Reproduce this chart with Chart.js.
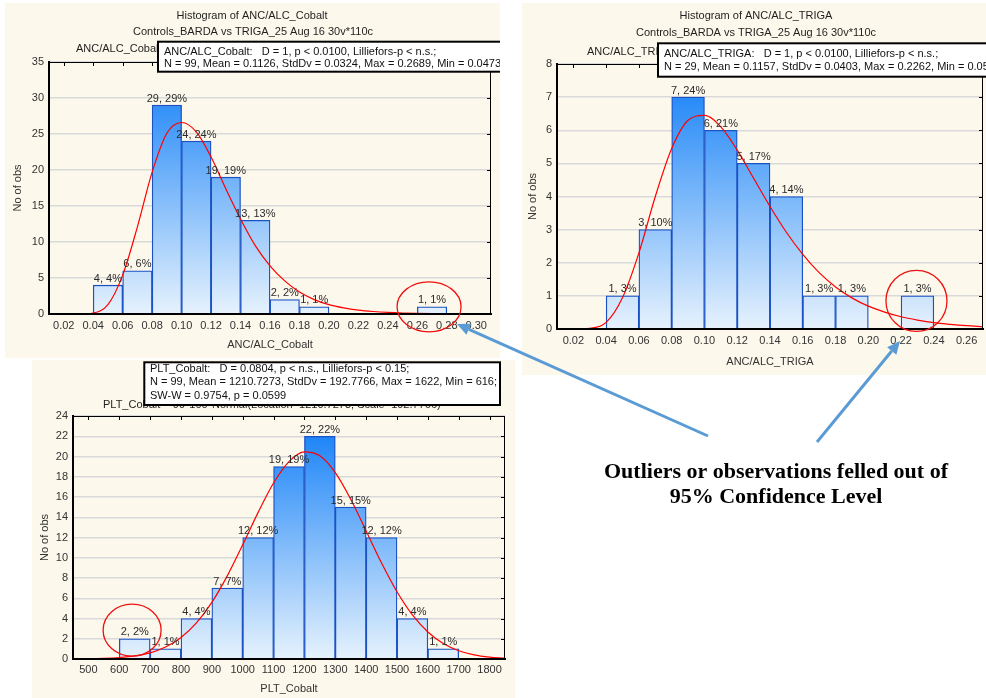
<!DOCTYPE html>
<html>
<head>
<meta charset="utf-8">
<script src="https://cdn.jsdelivr.net/npm/chart.js@4.4.1/dist/chart.umd.min.js"></script>
<style>
  html, body { margin: 0; padding: 0; background: #ffffff; }
  body { width: 986px; height: 698px; position: relative; overflow: hidden; }
  .panel { position: absolute; background: #fdf8ec; overflow: hidden; }
  .panel canvas { display: block; }
  #overlay { position: absolute; left: 0; top: 0; pointer-events: none; z-index: 5; }
</style>
</head>
<body>
<div class="panel" style="left:5px;top:3px;width:495px;height:355px"><canvas id="cobalt" width="495" height="355"></canvas></div>
<div class="panel" style="left:522px;top:3px;width:464px;height:372px"><canvas id="triga" width="464" height="372"></canvas></div>
<div class="panel" style="left:32px;top:360px;width:483px;height:338px"><canvas id="plt" width="483" height="338"></canvas></div>
<canvas id="overlay" width="986" height="698"></canvas>
<script>
// ---- ANC/ALC_Cobalt (bin width 0.02) ----
const cobaltBins   = [0.03, 0.05, 0.07, 0.09, 0.11, 0.13, 0.15, 0.17, 0.19, 0.21, 0.23, 0.25, 0.27];
const cobaltCounts = [0, 4, 6, 29, 24, 19, 13, 2, 1, 0, 0, 0, 1];
const cobaltTicks  = [0.02, 0.04, 0.06, 0.08, 0.10, 0.12, 0.14, 0.16, 0.18, 0.20, 0.22, 0.24, 0.26, 0.28, 0.30];
const cobaltFitX   = [0.01, 0.02, 0.03, 0.04, 0.05, 0.06, 0.07, 0.08, 0.09, 0.10, 0.11, 0.12, 0.13, 0.14, 0.15, 0.16,
                      0.17, 0.18, 0.19, 0.20, 0.21, 0.22, 0.23, 0.24, 0.25, 0.26, 0.27, 0.28, 0.29, 0.30, 0.31];
const cobaltFitY   = [0, 0, 0.01, 0.14, 1.3, 5.4, 12.1, 19.7, 25.1, 26.6, 25.3, 21.8, 17.4, 13.2, 9.5, 6.7,
                      4.6, 3.05, 2.0, 1.3, 0.85, 0.54, 0.35, 0.22, 0.14, 0.09, 0.055, 0.035, 0.02, 0.013, 0.008];

// ---- ANC/ALC_TRIGA (bin width 0.02) ----
const trigaBins   = [0.03, 0.05, 0.07, 0.09, 0.11, 0.13, 0.15, 0.17, 0.19, 0.21, 0.23];
const trigaCounts = [0, 1, 3, 7, 6, 5, 4, 1, 1, 0, 1];
const trigaTicks  = [0.02, 0.04, 0.06, 0.08, 0.10, 0.12, 0.14, 0.16, 0.18, 0.20, 0.22, 0.24, 0.26];
const trigaFitX   = [0.01, 0.02, 0.03, 0.04, 0.05, 0.06, 0.07, 0.08, 0.09, 0.10, 0.11, 0.12, 0.13, 0.14,
                     0.15, 0.16, 0.17, 0.18, 0.19, 0.20, 0.21, 0.22, 0.23, 0.24, 0.25, 0.26, 0.27];
const trigaFitY   = [0, 0, 0.02, 0.2, 0.95, 2.3, 4.0, 5.45, 6.3, 6.45, 6.1, 5.4, 4.55, 3.7,
                     2.92, 2.25, 1.7, 1.27, 0.94, 0.69, 0.51, 0.37, 0.27, 0.19, 0.14, 0.1, 0.07];

// ---- PLT_Cobalt (bin width 100) ----
const pltBins   = [550, 650, 750, 850, 950, 1050, 1150, 1250, 1350, 1450, 1550, 1650];
const pltCounts = [0, 2, 1, 4, 7, 12, 19, 22, 15, 12, 4, 1];
const pltTicks  = [500, 600, 700, 800, 900, 1000, 1100, 1200, 1300, 1400, 1500, 1600, 1700, 1800];
const pltFitX   = [450, 500, 550, 600, 650, 700, 750, 800, 850, 900, 950, 1000, 1050, 1100, 1150,
                   1200, 1250, 1300, 1350, 1400, 1450, 1500, 1550, 1600, 1650, 1700, 1750, 1800, 1850];
const pltFitY   = [0.01, 0.02, 0.06, 0.14, 0.3, 0.61, 1.18, 2.12, 3.56, 5.59, 8.21, 11.28, 14.48, 17.38, 19.5,
                   20.46, 20.07, 18.41, 15.78, 12.65, 9.48, 6.64, 4.35, 2.67, 1.53, 0.82, 0.41, 0.19, 0.08];

const FONT = '"Liberation Sans", Arial, Helvetica, sans-serif';
Chart.defaults.font.family = FONT;
Chart.defaults.font.size = 11;
Chart.defaults.color = '#333333';

function makeHistogram(canvasId, d) {
  const el = document.getElementById(canvasId);
  const W = el.width, H = el.height, A = d.area;
  const total = d.counts.reduce((s, v) => s + v, 0);
  let grad = null;

  const barFill = (c) => {
    const ch = c.chart, a = ch.chartArea;
    if (!a) return '#5aa6f6';
    if (!grad) {
      grad = ch.ctx.createLinearGradient(0, a.top, 0, a.bottom);
      grad.addColorStop(0, '#0d7cf7');
      grad.addColorStop(1, '#e6f2fd');
    }
    return grad;
  };

  const decor = {
    id: 'decor_' + canvasId,
    afterDatasetsDraw(chart) {
      const { ctx, chartArea: a, scales: { x, y } } = chart;
      const meta = chart.getDatasetMeta(1);
      ctx.save();
      // plot frame: heavy left/bottom axes, thin top/right edges
      ctx.strokeStyle = '#000';
      ctx.lineWidth = 1;
      ctx.beginPath();
      ctx.moveTo(a.left, a.top + 0.5); ctx.lineTo(a.right, a.top + 0.5);
      ctx.moveTo(a.right - 0.5, a.top); ctx.lineTo(a.right - 0.5, a.bottom);
      ctx.stroke();
      // inward tick marks on the top and right edges
      ctx.beginPath();
      d.xTicks.forEach(v => { const px = Math.round(x.getPixelForValue(v)) + 0.5; ctx.moveTo(px, a.top); ctx.lineTo(px, a.top + 4); });
      y.ticks.forEach(t => { const py = Math.round(y.getPixelForValue(t.value)) + 0.5; ctx.moveTo(a.right, py); ctx.lineTo(a.right - 4, py); });
      ctx.stroke();
      ctx.lineWidth = 2;
      ctx.beginPath();
      ctx.moveTo(a.left, a.top); ctx.lineTo(a.left, a.bottom); ctx.lineTo(a.right, a.bottom);
      ctx.stroke();

      // count / percent labels above each bar
      ctx.fillStyle = '#2b2b2b';
      ctx.font = '11px ' + FONT;
      ctx.textAlign = 'center';
      ctx.textBaseline = 'middle';
      meta.data.forEach((bar, i) => {
        const c = d.counts[i];
        if (!c) return;
        ctx.fillText(c + ', ' + Math.round(c / total * 100) + '%', bar.x, bar.y - 6.5);
      });

      // red rings around outlying bins
      ctx.strokeStyle = '#ee1111';
      ctx.lineWidth = 1.3;
      d.outliers.forEach(o => {
        const i = d.bins.findIndex(b => Math.abs(b - o.bin) < 1e-9);
        const bar = meta.data[i];
        ctx.beginPath();
        ctx.ellipse(bar.x + o.dx, bar.y + o.dy, o.rx, o.ry, 0, 0, Math.PI * 2);
        ctx.stroke();
      });
      ctx.restore();
    },
    afterDraw(chart) {
      const ctx = chart.ctx;
      ctx.save();
      ctx.font = '11px ' + FONT;
      ctx.fillStyle = '#1f1f1f';
      ctx.textBaseline = 'middle';
      d.titles.forEach(t => { ctx.textAlign = t.align; ctx.fillText(t.text, t.x, t.y); });
      const b = d.box;
      ctx.fillStyle = '#ffffff';
      ctx.fillRect(b.x, b.y, b.w, b.h);
      ctx.strokeStyle = '#000';
      ctx.lineWidth = 2;
      ctx.strokeRect(b.x, b.y, b.w, b.h);
      ctx.fillStyle = '#111';
      ctx.textAlign = 'left';
      b.lines.forEach((s, i) => ctx.fillText(s, b.tx, b.ty[i]));
      ctx.restore();
    }
  };

  return new Chart(el, {
    type: 'bar',
    data: {
      datasets: [
        {
          type: 'line',
          data: d.fitX.map((x, i) => ({ x, y: d.fitY[i] })),
          borderColor: '#ff0000',
          borderWidth: 1.2,
          pointRadius: 0,
          fill: false,
          cubicInterpolationMode: 'monotone',
          order: 0
        },
        {
          type: 'bar',
          data: d.bins.map((x, i) => ({ x, y: d.counts[i] })),
          backgroundColor: barFill,
          borderColor: '#1a52c4',
          borderWidth: 1.3,
          borderSkipped: 'start',
          barPercentage: 1,
          categoryPercentage: 1,
          order: 1
        }
      ]
    },
    options: {
      responsive: false,
      animation: false,
      devicePixelRatio: 1,
      layout: { padding: { left: 0, top: A.top, right: W - A.right, bottom: 0 } },
      plugins: { legend: { display: false }, tooltip: { enabled: false }, title: { display: false } },
      scales: {
        x: {
          type: 'linear',
          min: d.xMin,
          max: d.xMax,
          offset: false,
          afterBuildTicks: s => { s.ticks = d.xTicks.map(v => ({ value: v })); },
          afterFit: s => { s.height = H - A.bottom; },
          ticks: { autoSkip: false, maxRotation: 0, padding: d.xTickPad, color: '#333', callback: v => d.fmt(v) },
          grid: { display: false, offset: false, drawTicks: false },
          border: { display: true, color: '#000', width: 2 },
          title: { display: true, text: d.xTitle, color: '#333', font: { size: 11 }, padding: { top: 0, bottom: d.xTitlePad } }
        },
        y: {
          min: 0,
          max: d.yMax,
          afterFit: s => { s.width = A.left; },
          ticks: { stepSize: d.yStep, padding: 5, color: '#333' },
          grid: { color: '#d9d9d9', lineWidth: 1.5, drawTicks: false },
          border: { display: true, color: '#000', width: 2 },
          title: { display: true, text: 'No of obs', color: '#333', font: { size: 11 }, padding: { top: d.yTitlePad, bottom: 0 } }
        }
      }
    },
    plugins: [decor]
  });
}

makeHistogram('cobalt', {
  bins: cobaltBins, counts: cobaltCounts, fitX: cobaltFitX, fitY: cobaltFitY, xTicks: cobaltTicks,
  xMin: 0.01, xMax: 0.31, yMax: 35, yStep: 5, fmt: v => v.toFixed(2),
  area: { left: 44, top: 59, right: 486, bottom: 311 },
  xTickPad: 5, xTitlePad: 6.4, yTitlePad: 6.7,
  xTitle: 'ANC/ALC_Cobalt',
  outliers: [{ bin: 0.27, dx: -3, dy: 0, rx: 32, ry: 25 }],
  titles: [
    { text: 'Histogram of ANC/ALC_Cobalt', x: 247, y: 12.7, align: 'center' },
    { text: 'Controls_BARDA vs TRIGA_25 Aug 16 30v*110c', x: 248, y: 29.3, align: 'center' },
    { text: 'ANC/ALC_Cobalt', x: 71, y: 46, align: 'left' }
  ],
  box: {
    x: 153, y: 38.7, w: 420, h: 30, tx: 159, ty: [48.7, 60.5],
    lines: ['ANC/ALC_Cobalt:   D = 1, p < 0.0100, Lilliefors-p < n.s.;',
            'N = 99, Mean = 0.1126, StdDv = 0.0324, Max = 0.2689, Min = 0.0473']
  }
});

makeHistogram('triga', {
  bins: trigaBins, counts: trigaCounts, fitX: trigaFitX, fitY: trigaFitY, xTicks: trigaTicks,
  xMin: 0.01, xMax: 0.27, yMax: 8, yStep: 1, fmt: v => v.toFixed(2),
  area: { left: 35, top: 61, right: 461, bottom: 326 },
  xTickPad: 5, xTitlePad: 6.4, yTitlePad: 4.4,
  xTitle: 'ANC/ALC_TRIGA',
  outliers: [{ bin: 0.23, dx: -1, dy: 5, rx: 30.5, ry: 30.5 }],
  titles: [
    { text: 'Histogram of ANC/ALC_TRIGA', x: 234, y: 13, align: 'center' },
    { text: 'Controls_BARDA vs TRIGA_25 Aug 16 30v*110c', x: 234, y: 30.3, align: 'center' },
    { text: 'ANC/ALC_TRIGA', x: 65, y: 48.7, align: 'left' }
  ],
  box: {
    x: 136, y: 40.3, w: 400, h: 33.4, tx: 142, ty: [51, 63.7],
    lines: ['ANC/ALC_TRIGA:   D = 1, p < 0.0100, Lilliefors-p < n.s.;',
            'N = 29, Mean = 0.1157, StdDv = 0.0403, Max = 0.2262, Min = 0.0541']
  }
});

makeHistogram('plt', {
  bins: pltBins, counts: pltCounts, fitX: pltFitX, fitY: pltFitY, xTicks: pltTicks,
  xMin: 450, xMax: 1850, yMax: 24, yStep: 2, fmt: v => String(v),
  area: { left: 41, top: 56, right: 473, bottom: 299 },
  xTickPad: 4, xTitlePad: 2.4, yTitlePad: 6.4,
  xTitle: 'PLT_Cobalt',
  outliers: [{ bin: 650, dx: -2.6, dy: -8.6, rx: 29, ry: 26 }],
  titles: [
    { text: 'PLT_Cobalt = 99*100*Normal(Location=1210.7273; Scale=192.7766)', x: 71, y: 44.5, align: 'left' }
  ],
  box: {
    x: 112.3, y: 2.3, w: 355.7, h: 42.7, tx: 118, ty: [8.6, 21.7, 36.2],
    lines: ['PLT_Cobalt:   D = 0.0804, p < n.s., Lilliefors-p < 0.15;',
            'N = 99, Mean = 1210.7273, StdDv = 192.7766, Max = 1622, Min = 616;',
            'SW-W = 0.9754, p = 0.0599']
  }
});

// ---- callout: arrows pointing at the outlying bins, with caption ----
const calloutArrows = [[708, 436, 457, 324], [817, 442, 900, 341]];
const calloutLines = ['Outliers or observations felled out of', '95% Confidence Level'];

(function drawCallout() {
  const ctx = document.getElementById('overlay').getContext('2d');
  ctx.strokeStyle = '#5b9bd5';
  ctx.fillStyle = '#5b9bd5';
  ctx.lineWidth = 3;
  calloutArrows.forEach(([x0, y0, x1, y1]) => {
    const ang = Math.atan2(y1 - y0, x1 - x0);
    const len = 13, half = 6;
    const bx = x1 - len * Math.cos(ang), by = y1 - len * Math.sin(ang);
    ctx.beginPath();
    ctx.moveTo(x0, y0);
    ctx.lineTo(bx, by);
    ctx.stroke();
    ctx.beginPath();
    ctx.moveTo(x1, y1);
    ctx.lineTo(bx + half * Math.sin(ang), by - half * Math.cos(ang));
    ctx.lineTo(bx - half * Math.sin(ang), by + half * Math.cos(ang));
    ctx.closePath();
    ctx.fill();
  });
  ctx.fillStyle = '#000';
  ctx.font = 'bold 22px "Liberation Serif", "Times New Roman", serif';
  ctx.textAlign = 'center';
  ctx.textBaseline = 'alphabetic';
  ctx.fillText(calloutLines[0], 776, 478);
  ctx.fillText(calloutLines[1], 776, 503);
})();
</script>
</body>
</html>
